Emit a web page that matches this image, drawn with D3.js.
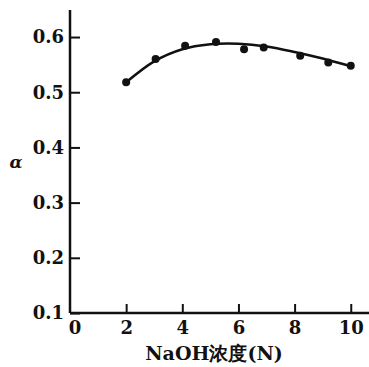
<!DOCTYPE html>
<html>
<head>
<meta charset="utf-8">
<script src="https://cdn.jsdelivr.net/npm/d3@7"></script>
<style>
  body { margin: 0; background: #fff; }
  text { font-family: "DejaVu Serif", "Liberation Serif", serif; font-weight: bold; fill: #111; }
</style>
</head>
<body>
<div id="chart"></div>
<script>
// measured points
var concN = [2, 3.05, 4.1, 5.2, 6.2, 6.9, 8.2, 9.2, 10];
var alpha = [0.518, 0.560, 0.584, 0.591, 0.578, 0.581, 0.566, 0.554, 0.548];

// hand-drawn fit line
var fitN = [2, 3, 4, 5, 6, 7, 8, 9, 10];
var fitAlpha = [0.518, 0.556, 0.578, 0.587, 0.588, 0.583, 0.573, 0.561, 0.547];

var xTicks = [0, 2, 4, 6, 8, 10];
var yTicks = [0.1, 0.2, 0.3, 0.4, 0.5, 0.6];

var svgWidth = 369, svgHeight = 367;
var margin = {top: 10, left: 70, right: 0, bottom: 54};
var chartWidth = svgWidth - margin.left - margin.right;
var chartHeight = svgHeight - margin.top - margin.bottom;

var svg = d3.select("#chart").append("svg")
    .attr("width", svgWidth)
    .attr("height", svgHeight);

var chartGroup = svg.append("g")
    .attr("transform", `translate(${margin.left},${margin.top})`);

var xScale = d3.scaleLinear().domain([0, 10.65]).range([0, chartWidth]);
var yScale = d3.scaleLinear().domain([0.1, 0.649]).range([chartHeight, 0]);

// x axis, ticks pointing up
var xAxis = d3.axisBottom(xScale)
    .tickValues(xTicks.filter(d => d > 0))
    .tickSize(-9)
    .tickFormat(d3.format("d"));
var gx = chartGroup.append("g")
    .attr("transform", `translate(0,${chartHeight})`)
    .call(xAxis);
gx.select(".domain").remove();
gx.selectAll("line").attr("stroke", "#111").attr("stroke-width", 2);
gx.selectAll("text").attr("y", 8).attr("dy", "0.71em")
    .style("font-size", "18px").style("font-family", "DejaVu Serif");
gx.append("text")
    .attr("x", xScale(0) + 5)
    .attr("y", 8).attr("dy", "0.71em")
    .attr("text-anchor", "middle")
    .style("font-size", "18px")
    .text("0");

// y axis, ticks pointing right
var yAxis = d3.axisLeft(yScale)
    .tickValues(yTicks)
    .tickSize(-10)
    .tickFormat(d3.format(".1f"));
var gy = chartGroup.append("g").call(yAxis);
gy.select(".domain").remove();
gy.selectAll("line").attr("stroke", "#111").attr("stroke-width", 2);
gy.selectAll("text").attr("x", -6)
    .style("font-size", "18px").style("font-family", "DejaVu Serif");

// axis lines
chartGroup.append("line")
    .attr("x1", 0).attr("x2", chartWidth)
    .attr("y1", chartHeight).attr("y2", chartHeight)
    .attr("stroke", "#111").attr("stroke-width", 2.5);
chartGroup.append("line")
    .attr("x1", 0).attr("x2", 0)
    .attr("y1", 0).attr("y2", chartHeight)
    .attr("stroke", "#111").attr("stroke-width", 2.5);

// fit curve
var line = d3.line()
    .x((d, i) => xScale(fitN[i]))
    .y(d => yScale(d))
    .curve(d3.curveCatmullRom);
chartGroup.append("path")
    .datum(fitAlpha)
    .attr("d", line)
    .attr("fill", "none")
    .attr("stroke", "#111")
    .attr("stroke-width", 2.5);

// points
chartGroup.append("g")
    .selectAll("circle")
    .data(alpha)
    .enter()
    .append("circle")
    .attr("cx", (d, i) => xScale(concN[i]))
    .attr("cy", d => yScale(d))
    .attr("r", 4)
    .attr("fill", "#111");

// labels
svg.append("text")
    .attr("x", 16).attr("y", 168)
    .attr("text-anchor", "middle")
    .style("font-size", "17px")
    .style("font-style", "italic")
    .text("α");

svg.append("text")
    .attr("x", 214)
    .attr("y", 360)
    .attr("text-anchor", "middle")
    .style("font-size", "19px")
    .text("NaOH浓度(N)");
</script>
</body>
</html>
